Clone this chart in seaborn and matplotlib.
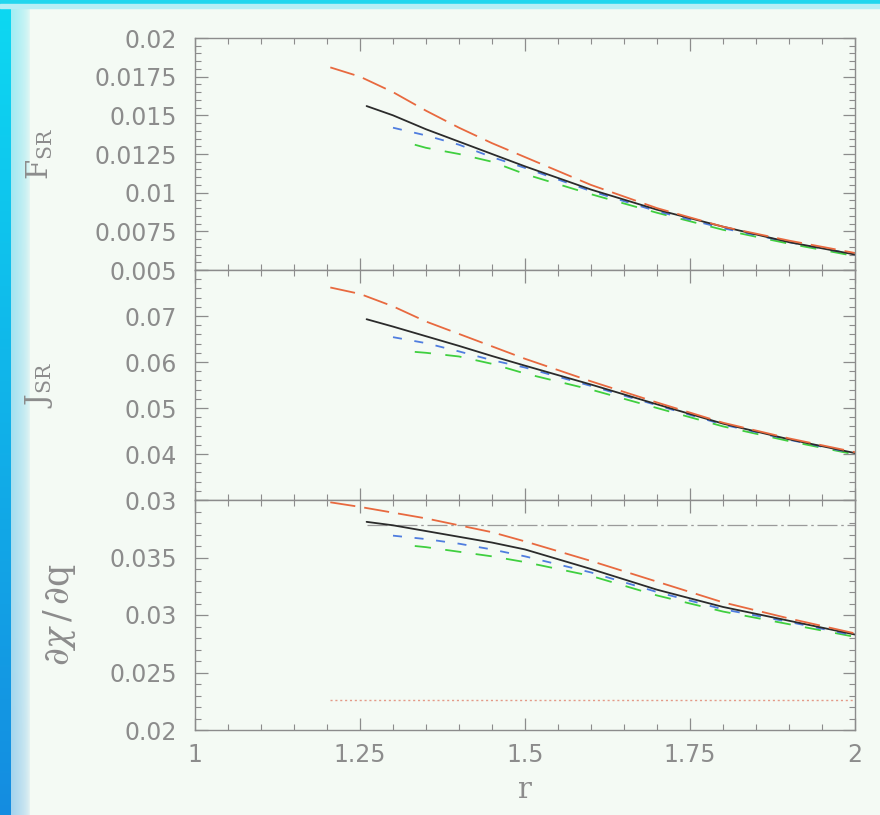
import numpy as np
import pandas as pd
import matplotlib
matplotlib.use("Agg")
import matplotlib.pyplot as plt
from matplotlib.ticker import MultipleLocator
from matplotlib.patches import Rectangle
import seaborn as sns

# ---------------- data ----------------
models = ["green", "blue", "black", "red"]

r_red = [1.205, 1.25, 1.3, 1.35, 1.4, 1.45, 1.5, 1.6, 1.7, 1.8, 1.9, 2.0]
F_red = [0.0181, 0.0175, 0.0165, 0.0153, 0.0142, 0.0132, 0.0123, 0.0105, 0.0090, 0.0078, 0.0069, 0.0061]
J_red = [0.0762, 0.0748, 0.0721, 0.0688, 0.0661, 0.0634, 0.0607, 0.0558, 0.0512, 0.0468, 0.0434, 0.0404]
D_red = [0.0398, 0.0394, 0.0389, 0.0384, 0.0378, 0.0372, 0.0364, 0.0347, 0.0329, 0.0311, 0.0297, 0.0284]

r_black = [1.26, 1.3, 1.35, 1.4, 1.45, 1.5, 1.6, 1.7, 1.8, 1.9, 2.0]
F_black = [0.0156, 0.0150, 0.0141, 0.0133, 0.0125, 0.0117, 0.0102, 0.0089, 0.0078, 0.0068, 0.0060]
J_black = [0.0693, 0.0677, 0.0656, 0.0635, 0.0613, 0.0592, 0.0551, 0.0508, 0.0466, 0.0432, 0.0402]
D_black = [0.0381, 0.0378, 0.0373, 0.0368, 0.0363, 0.0357, 0.0340, 0.0322, 0.0307, 0.0295, 0.0283]

r_blue = [1.30, 1.35, 1.4, 1.45, 1.5, 1.6, 1.7, 1.8, 1.9, 2.0]
F_blue = [0.0142, 0.0137, 0.0131, 0.0123, 0.0116, 0.0101, 0.0088, 0.0077, 0.0068, 0.0060]
J_blue = [0.0654, 0.0641, 0.0623, 0.0604, 0.0588, 0.0548, 0.0506, 0.0464, 0.0431, 0.0401]
D_blue = [0.0369, 0.0366, 0.0362, 0.0357, 0.0351, 0.0337, 0.0320, 0.0305, 0.0294, 0.0282]

r_green = [1.333, 1.35, 1.4, 1.45, 1.5, 1.6, 1.7, 1.8, 1.9, 2.0]
F_green = [0.0131, 0.0129, 0.0125, 0.0120, 0.0112, 0.0099, 0.0087, 0.0076, 0.0067, 0.0059]
J_green = [0.0622, 0.0620, 0.0612, 0.0596, 0.0575, 0.0540, 0.0500, 0.0460, 0.0428, 0.0399]
D_green = [0.0360, 0.0359, 0.0355, 0.0351, 0.0346, 0.0334, 0.0317, 0.0303, 0.0292, 0.0281]

# horizontal reference levels in the bottom panel
ref_levels = [0.0378, 0.0226]
ref_start = [1.26, 1.204]
ref_end = [2.0, 2.0]

r_ticks = [1, 1.25, 1.5, 1.75, 2]
r_ticklabels = ["1", "1.25", "1.5", "1.75", "2"]
F_ticks = [0.005, 0.0075, 0.01, 0.0125, 0.015, 0.0175, 0.02]
F_ticklabels = ["0.005", "0.0075", "0.01", "0.0125", "0.015", "0.0175", "0.02"]
J_ticks = [0.03, 0.04, 0.05, 0.06, 0.07, 0.08]
J_ticklabels = ["0.03", "0.04", "0.05", "0.06", "0.07", ""]
D_ticks = [0.02, 0.025, 0.03, 0.035, 0.04]
D_ticklabels = ["0.02", "0.025", "0.03", "0.035", ""]

# ---------------- build long table ----------------
frames = []
for name, r, F, J, D in [("red", r_red, F_red, J_red, D_red),
                         ("black", r_black, F_black, J_black, D_black),
                         ("blue", r_blue, F_blue, J_blue, D_blue),
                         ("green", r_green, F_green, J_green, D_green)]:
    frames.append(pd.DataFrame({"model": name, "r": r, "F": F, "J": J, "D": D}))
df = pd.concat(frames, ignore_index=True)

palette = {"red": "#e8693f", "black": "#2b2b2b", "blue": "#4f7ddf", "green": "#3fcf3f"}
dashes = {"red": (14, 5), "black": "", "blue": (5, 7), "green": (9, 8)}

# ---------------- style ----------------
sns.set_theme(style="ticks")
bg = "#f4faf4"
grey = "#8c8c8c"
plt.rcParams["font.family"] = ["DejaVu Sans"]
plt.rcParams["mathtext.fontset"] = "dejavuserif"

fig = plt.figure(figsize=(8.8, 8.15), dpi=100, facecolor=bg)

# slide border (cyan/blue strip at the left and top), drawn underneath
nrow = 200
grad = np.zeros((nrow, 30, 3))
top_c = np.array([0.05, 0.85, 0.95])
bot_c = np.array([0.08, 0.55, 0.88])
bgc = np.array([0xf4, 0xfa, 0xf4]) / 255
for k in range(nrow):
    c = top_c + (bot_c - top_c) * k / (nrow - 1)
    for j in range(30):
        if j < 11:
            grad[k, j] = c
        else:
            t = (j - 11) / 19
            w = (1 - t) ** 0.5 * 0.35
            grad[k, j] = c * w + bgc * (1 - w)
bax = fig.add_axes([0, 0, 30 / 880, 1], zorder=-5)
bax.imshow(grad, aspect="auto", extent=(0, 1, 0, 1), interpolation="bilinear")
bax.axis("off")
fig.patches.append(Rectangle((0, 1 - 4 / 815), 1, 4 / 815, transform=fig.transFigure,
                             color="#22d6ee", zorder=0))
fig.patches.append(Rectangle((0, 1 - 8 / 815), 1, 4 / 815, transform=fig.transFigure,
                             color="#b8eef5", zorder=0))

L, W = 195 / 880, 660 / 880
tops = [38, 270, 500]
bots = [270, 500, 730]
axes = []
for t, b in zip(tops, bots):
    ax = fig.add_axes([L, 1 - b / 815, W, (b - t) / 815], zorder=1)
    axes.append(ax)

cols = ["F", "J", "D"]
ylims = [(0.005, 0.02), (0.03, 0.08), (0.02, 0.04)]
yticks = [F_ticks, J_ticks, D_ticks]
ylabs = [F_ticklabels, J_ticklabels, D_ticklabels]
yminor = [0.0005, 0.002, 0.001]
ytitles = [r"$\mathrm{F}_{\mathrm{SR}}$", r"$\mathrm{J}_{\mathrm{SR}}$",
           r"$\partial\chi\,/\,\partial\mathrm{q}$"]
ysizes = [21, 21, 25]
ylabx = [-0.212, -0.212, -0.178]

for i, ax in enumerate(axes):
    ax.set_facecolor(bg)
    sns.lineplot(data=df, x="r", y=cols[i], hue="model", style="model",
                 hue_order=models, style_order=models, palette=palette,
                 dashes=dashes, estimator=None, sort=True, legend=False,
                 linewidth=1.3, ax=ax)
    ax.set_xlim(1, 2)
    ax.set_ylim(*ylims[i])
    ax.set_xticks(r_ticks)
    ax.set_xticklabels(r_ticklabels)
    ax.set_yticks(yticks[i])
    ax.set_yticklabels(ylabs[i])
    ax.xaxis.set_minor_locator(MultipleLocator(0.05))
    ax.yaxis.set_minor_locator(MultipleLocator(yminor[i]))
    ax.tick_params(which="both", direction="in", top=True, right=True,
                   color=grey, labelcolor=grey, labelsize=17)
    ax.tick_params(which="major", length=9, width=0.9)
    ax.tick_params(which="minor", length=4, width=0.8)
    ax.tick_params(axis="y", pad=13)
    ax.tick_params(axis="x", pad=9)
    for s in ax.spines.values():
        s.set_color(grey)
        s.set_linewidth(1.0)
    ax.set_ylabel(ytitles[i], color=grey, fontsize=ysizes[i])
    ax.yaxis.set_label_coords(ylabx[i], 0.5)
    if i < 2:
        ax.tick_params(labelbottom=False)
        ax.set_xlabel("")

axb = axes[2]
axb.hlines(ref_levels[0], ref_start[0], ref_end[0], color="#9a9a9a",
           linestyles=(0, (16, 3, 2, 3)), linewidth=0.9, zorder=1)
axb.hlines(ref_levels[1], ref_start[1], ref_end[1], color="#e49a88",
           linestyles=(0, (1.5, 2)), linewidth=1.0, zorder=1)
axb.set_xlabel("r", color=grey, fontsize=21, family="DejaVu Serif")
axb.xaxis.set_label_coords(0.5, -0.20)

fig.savefig("out.png", dpi=100, facecolor=bg)
